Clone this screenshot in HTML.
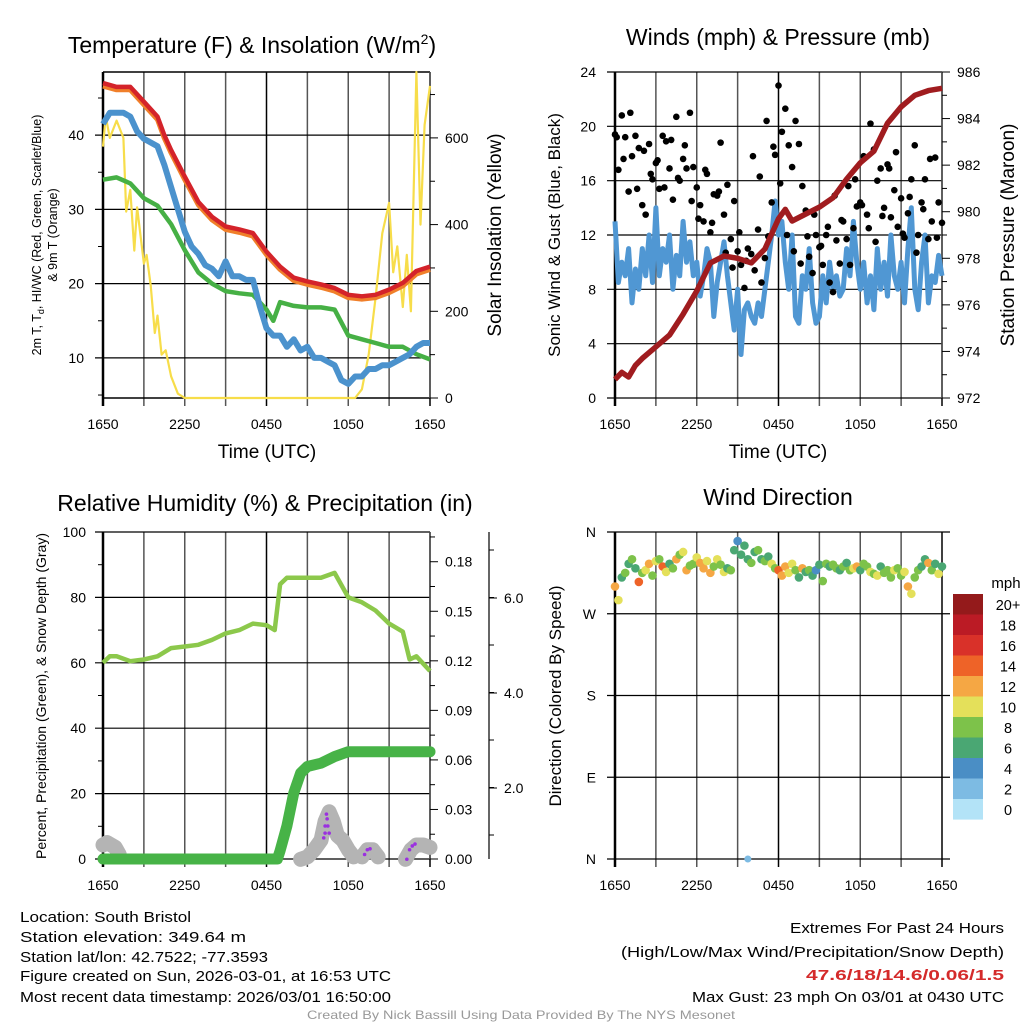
<!DOCTYPE html>
<html><head><meta charset="utf-8"><style>
html,body{margin:0;padding:0;background:#fff;}
svg{display:block;font-family:"Liberation Sans",sans-serif;}
</style></head><body>
<svg id="root" width="1024" height="1024" viewBox="0 0 1024 1024" xmlns="http://www.w3.org/2000/svg"></svg>
<script>
// ---------- DATA ----------
const timeTicks = ["1650","2250","0450","1050","1650"];
// Temperature panel (hours since 1650 UTC)
const redT = [0,1,2,3,4,4.5,5,6,7,8,9,10,11,12,13,14,15,16,17,18,19,20,21,22,23,24];
const redV = [47,46.5,46.5,44.5,42.5,40,38,34.4,31,29,27.7,27.3,26.8,24.3,22.3,20.8,20.3,19.9,19.4,18.5,18.3,18.5,19.2,20.1,21.7,22.3];
const greenT = [0,1,2,3,4,5,6,7,8,9,10,11,12,12.5,13,14,15,16,17,18,19,20,21,22,23,24];
const greenV = [34,34.3,33.5,31.5,30.5,28,24.5,21.5,20,19,18.7,18.5,16.5,15,17.5,17,16.8,16.8,16.5,13,12.5,12,11.5,11.5,10.5,9.8];
const blueT = [0,0.5,1,1.5,2,2.5,3,3.5,4,4.5,5,5.5,6,6.5,7,7.5,8,8.5,9,9.5,10,10.5,11,11.5,12,12.5,13,13.5,14,14.5,15,15.5,16,16.5,17,17.5,18,18.5,19,19.5,20,20.5,21,21.5,22,22.5,23,23.5,24];
const blueV = [41.5,43,43,43,42.5,40.5,39.5,39,38.5,36,33,30,27,25,24,22.5,22,21,23,21,21,20.5,20.5,17,14,13,13,11.5,12.5,11,11.5,10,10,9.5,9,7,6.5,7.5,7.5,8.5,8.5,9,9,9.5,10,10.5,11.5,12,12];
const solT = [0,0.2,0.5,1,1.5,1.7,2,2.3,2.5,3,3.2,3.5,3.8,4,4.3,4.6,5,5.5,6,18.5,19,19.5,20,20.5,21,21.3,21.6,22,22.3,22.6,23,23.3,23.6,24];
const solV = [580,650,600,640,600,430,480,340,440,310,330,260,150,190,100,110,50,10,0,0,20,100,230,380,450,290,350,210,330,200,752,400,630,720];
// Winds panel (wind speed every 0.25 h)
const windV = [13,8.5,10,9,11,7,9.5,8,11,9,12,8.5,14,9,11,10,12,8,10.5,9,13,10,11.5,9,
10,7.5,9,11,10,6,8.5,10,11.5,9,7,5,8,3.2,6.5,7,6,5.5,7,6,8,10,12,14.5,
12,13,10,8,12,6,5.5,9,8,11,7,5.5,6,9,7,10,8,9,7.5,8,11,9,13,10,
8,10,7,9,6.5,11,8,10,7.5,12,9,8,10,7,11,14,8,6.5,10,12,7,9,8.5,10.5,9];
const presT = [0,0.5,1,1.5,2,3,4,5,6,7,8,9,10,11,12,12.5,13,14,15,16,17,18,19,20,21,22,23,24];
const presV = [972.8,973.1,972.9,973.4,973.7,974.2,974.7,975.6,976.6,977.8,978.1,978.0,977.8,978.4,979.7,980.1,979.6,979.9,980.2,980.6,981.4,982.1,982.6,983.8,984.5,985.0,985.2,985.3];
const gustV = [19.4,16.8,20.8,19.2,15.2,17.8,19.3,18.4,14.2,13.5,18.7,16.1,17.3,15.4,19.3,18.9,16.9,14.6,20.7,16.0,17.6,16.9,21.0,17.0,
15.5,14.2,13.0,16.5,12.2,15.0,14.9,18.8,13.5,15.7,11.7,14.5,10.8,9.8,8.1,11.0,10.6,9.4,12.4,8.5,10.3,11.9,14.4,17.9,
23.0,19.6,21.3,18.6,17.0,20.4,18.7,15.6,13.8,10.4,9.2,12.0,11.1,9.8,12.0,8.5,7.8,11.6,9.9,13.0,11.7,9.8,12.5,14.1,
14.4,17.8,13.5,20.2,18.3,16.0,16.9,14.0,17.2,13.3,15.3,12.6,14.7,11.8,13.6,16.1,18.6,12.0,14.4,16.1,11.7,13.0,17.7,14.4,12.9];
const gust2V = [19.2,17.6,21,15.4,18.2,16.5,17.5,15.5,19,16.2,18.6,14.5,
13.2,16.8,12.9,15.2,10.7,9.6,12.2,10.1,17.8,16.3,20.4,18.5,
15.8,12.0,10.8,9.9,11.9,13.5,11.2,12.6,14.9,13.1,15.6,16.1,
14.2,12.5,11.5,13.4,16.9,18.1,12.1,14.8,10.7,13.9,17.6,11.8];
// RH / precip / snow panel
const rhT = [0,0.5,1,2,3,4,5,6,7,8,9,10,11,12,12.6,13,13.5,14,15,16,17,18,19,20,21,22,22.5,23,24];
const rhV = [60,62,62,60.5,61,62,64.5,65,65.5,67,69,70,72,71.5,70,84,86,86,86,86,87.5,80,78.5,76,72,69.5,61,62,57.5];
const prT = [0,12.8,13,13.5,14,14.5,15,16,17,18,24];
const prV = [0,0,0.005,0.02,0.04,0.052,0.056,0.058,0.062,0.065,0.065];
const snT = [0,0.3,0.6,0.9,1.2,14.5,15,15.5,16,16.3,16.6,16.9,17.2,17.6,18,18.4,19,19.4,19.8,20.2,22.2,22.6,23,23.5,24];
const snV = [0.8,0.85,0.8,0.75,0.6,0.5,0.55,0.7,0.9,1.3,1.5,1.3,1.0,0.9,0.7,0.55,0.55,0.7,0.7,0.55,0.5,0.7,0.8,0.8,0.75];
const puT = [16.4,16.45,16.3,16.5,16.3,16.6,16.2,19.2,19.4,19.6,22.3,22.5,22.7,22.9];
const puV = [1.45,1.35,1.2,1.2,1.05,1.05,0.95,0.6,0.7,0.72,0.5,0.7,0.78,0.82];
// Wind direction panel (0.25 h spacing)
const dirV = [300,285,310,315,325,330,320,305,315,318,325,312,328,330,322,316,325,320,330,335,338,318,323,325,
332,326,320,328,315,322,330,324,316,320,318,340,350,335,345,330,326,338,340,330,328,333,325,320,
318,312,322,315,325,318,310,320,316,318,312,318,324,306,325,322,324,320,318,322,326,318,320,322,
318,325,322,316,314,312,322,315,318,310,318,320,312,316,300,292,310,318,322,330,326,318,325,314,322];
const spdV = [12,10,7,8,7,9,6,14,8,10,12,9,11,8,14,10,7,9,12,8,10,12,8,9,
10,12,13,10,12,9,11,8,10,7,9,6,4,7,6,6,8,7,9,6,8,7,10,8,
14,13,12,10,11,8,7,12,7,9,6,5,7,8,8,7,9,8,7,8,6,9,10,12,
7,8,9,10,8,10,7,8,9,8,10,8,9,10,12,10,8,9,6,6,12,8,7,10,7];
const extraDirT = [9.75]; const extraDirV = [0]; const extraSpd = [3];
const cbLabels = ["20+","18","16","14","12","10","8","6","4","2","0"];
const cbColors = ["#941a1b","#bb1b25","#d93129","#ee6328","#f5a744","#e4e05a","#7dc24a","#4aa773","#4a8ec5","#7dbbe3","#b3e3f7"];

// ---------- HELPERS ----------
const NS="http://www.w3.org/2000/svg";
const root=document.getElementById('root');
function mk(tag,attrs,parent){const e=document.createElementNS(NS,tag);for(const k in attrs)e.setAttribute(k,attrs[k]);(parent||root).appendChild(e);return e;}
function txt(s,x,y,size,anchor,parent,extra){const e=mk('text',Object.assign({x:x,y:y,'font-size':size,'text-anchor':anchor||'middle',fill:'#000'},extra||{}),parent);e.textContent=s;return e;}
function lin(d0,d1,r0,r1){return v=>r0+(v-d0)/(d1-d0)*(r1-r0);}
function pathD(ts,vs,xs,ys){return ts.map((t,i)=>(i?'L':'M')+xs(t).toFixed(1)+','+ys(vs[i]).toFixed(1)).join(' ');}
function colorFor(s){let i=Math.floor(s/2);if(i>10)i=10;return cbColors[10-i];}

function frame(g,x0,y0,x1,y1){
  for(let k=0;k<=8;k++){const x=x0+k*(x1-x0)/8;const l=mk('line',{x1:x,y1:y0,x2:x,y2:y1+8,stroke:k%4==0?'#000':'#555','stroke-width':k==0?2.5:1.5},g);
    
    }
  for(let k=0;k<5;k++){const t=txt(timeTicks[k],x0+k*(x1-x0)/4,y1+31,14,'middle',g);
    
    }
}
function hgrid(g,x0,x1,y,label,side,lx){
  const l=mk('line',{x1:x0-8,y1:y,x2:x1,y2:y,stroke:'#000','stroke-width':1.2},g);
  
  
  if(label!==null){const t=txt(label,lx,y+5,14,'end',g);
    
    }
}
function rtick(g,x,y,label,len){
  mk('line',{x1:x,y1:y,x2:x+(len||8),y2:y,stroke:'#000','stroke-width':1},g);
  if(label!==null){const t=txt(label,x+15,y+5,14,'start',g);
    
    }
}
function vtext(s,x,y,size,parent){const t=txt(s,0,0,size,'middle',parent,{transform:`translate(${x},${y}) rotate(-90)`});return t;}

// ---------- PANEL 1: Temperature ----------
(function(){
  const g=mk('g',{});
  
  
  const X0=103,X1=430,Y0=72,Y1=398;
  const xs=lin(0,24,X0,X1), ys=lin(4.6,48.5,Y1,Y0), ysR=lin(0,752,Y1,Y0);
  const title=txt('Temperature (F) & Insolation (W/m',252,53,23,'middle',g);
  const sup=mk('tspan',{dy:-9,'font-size':14},title);sup.textContent='2';
  const cl=mk('tspan',{dy:9},title);cl.textContent=')';
  
  
  frame(g,X0,Y0,X1,Y1);
  [10,20,30,40].forEach(v=>hgrid(g,X0,X1,ys(v),String(v),'l',84));
  mk('line',{x1:X0,y1:Y0,x2:X1,y2:Y0,stroke:'#000','stroke-width':1.5},g);
  mk('line',{x1:X0,y1:Y1,x2:X1,y2:Y1,stroke:'#000','stroke-width':1.5},g);
  mk('line',{x1:X1,y1:Y0,x2:X1,y2:Y1,stroke:'#555','stroke-width':1.5},g);
  [0,200,400,600].forEach(v=>rtick(g,X1,ysR(v),String(v)));
  [100,300,500,700].forEach(v=>rtick(g,X1,ysR(v),null,5));
  [5,15,25,35,45].forEach(v=>mk('line',{x1:X0-5,y1:ys(v),x2:X0,y2:ys(v),stroke:'#000'},g));
  const sol=mk('path',{d:pathD(solT,solV,xs,ysR),fill:'none',stroke:'#f7dd4a','stroke-width':2.2,'stroke-linejoin':'round'},g);
  
  
  const gr=mk('path',{d:pathD(greenT,greenV,xs,ys),fill:'none',stroke:'#46b045','stroke-width':4.5,'stroke-linejoin':'round'},g);
  
  
  const bl=mk('path',{d:pathD(blueT,blueV,xs,ys),fill:'none',stroke:'#4b92cd','stroke-width':6,'stroke-linejoin':'round'},g);
  
  
  const or=mk('path',{d:pathD(redT,redV.map(v=>v-0.4),xs,ys),fill:'none',stroke:'#f07f2a','stroke-width':5,'stroke-linejoin':'round'},g);
  
  
  const rd=mk('path',{d:pathD(redT,redV,xs,ys),fill:'none',stroke:'#d4232a','stroke-width':4.5,'stroke-linejoin':'round'},g);
  
  
  const xl=txt('Time (UTC)',267,458,19,'middle',g);
  
  
  const yl1=vtext('2m T, T',41,235,12.5,g);
  const sub=mk('tspan',{dy:3,'font-size':9},yl1);sub.textContent='d';
  const rest=mk('tspan',{dy:-3},yl1);rest.textContent=', HI/WC (Red, Green, Scarlet/Blue)';
  
  
  const yl2=vtext('& 9m T (Orange)',57,235,12.5,g);
  
  
  const yr=vtext('Solar Insolation (Yellow)',501,235,19,g);
  
  
})();

// ---------- PANEL 2: Winds ----------
(function(){
  const g=mk('g',{});
  
  
  const X0=615,X1=942,Y0=72,Y1=398;
  const xs=lin(0,24,X0,X1), ys=lin(0,24,Y1,Y0), ysR=lin(972,986,Y1,Y0);
  const title=txt('Winds (mph) & Pressure (mb)',778,45,23,'middle',g);
  
  
  frame(g,X0,Y0,X1,Y1);
  [0,4,8,12,16,20,24].forEach(v=>hgrid(g,X0,X1,ys(v),String(v),'l',596));
  mk('line',{x1:X1,y1:Y0,x2:X1,y2:Y1,stroke:'#555','stroke-width':1.5},g);
  [972,974,976,978,980,982,984,986].forEach(v=>rtick(g,X1,ysR(v),String(v)));
  [973,975,977,979,981,983,985].forEach(v=>rtick(g,X1,ysR(v),null,5));
  const wT=windV.map((v,i)=>i*0.25);
  const wl=mk('path',{d:pathD(wT,windV,xs,ys),fill:'none',stroke:'#5097d3','stroke-width':5,'stroke-linejoin':'round'},g);
  
  
  gustV.forEach((v,i)=>{const c=mk('circle',{cx:xs(i*0.25),cy:ys(v),r:3.3,fill:'#000'},g);
    
    });
  gust2V.forEach((v,i)=>{const c=mk('circle',{cx:xs(i*0.5+0.125),cy:ys(v),r:3.3,fill:'#000'},g);
    
    });
  const pl=mk('path',{d:pathD(presT,presV,xs,ysR),fill:'none',stroke:'#a01c1f','stroke-width':5.5,'stroke-linejoin':'round'},g);
  
  
  const xl=txt('Time (UTC)',778,458,19,'middle',g);
  
  
  const yl=vtext('Sonic Wind & Gust (Blue, Black)',560,235,17,g);
  
  
  const yr=vtext('Station Pressure (Maroon)',1014,235,19,g);
  
  
})();

// ---------- PANEL 3: RH / Precip ----------
(function(){
  const g=mk('g',{});
  
  
  const X0=103,X1=430,Y0=532,Y1=859;
  const xs=lin(0,24,X0,X1), ys=lin(0,100,Y1,Y0), ysP=lin(0,0.198,Y1,Y0), ysS=lin(0,2,883,788);
  const title=txt('Relative Humidity (%) & Precipitation (in)',265,511,23,'middle',g);
  
  
  frame(g,X0,Y0,X1,Y1);
  [0,20,40,60,80,100].forEach(v=>hgrid(g,X0,X1,ys(v),String(v),'l',86));
  [10,30,50,70,90].forEach(v=>mk('line',{x1:X0-5,y1:ys(v),x2:X0,y2:ys(v),stroke:'#000'},g));
  mk('line',{x1:X1,y1:Y0,x2:X1,y2:Y1,stroke:'#555','stroke-width':1.5},g);
  [0,0.03,0.06,0.09,0.12,0.15,0.18].forEach(v=>rtick(g,X1,ysP(v),v.toFixed(2)));
  [0.015,0.045,0.075,0.105,0.135,0.165,0.195].forEach(v=>rtick(g,X1,ysP(v),null,5));
  const ax3=mk('line',{x1:489,y1:Y0,x2:489,y2:Y1,stroke:'#333','stroke-width':1.5},g);
  
  
  [2,4,6].forEach(v=>{mk('line',{x1:489,y1:ysS(v),x2:497,y2:ysS(v),stroke:'#000'},g);
    const t=txt(v.toFixed(1),504,ysS(v)+5,14,'start',g);
    
    });
  for(let y=Y1-24;y>Y0;y-=47.5){mk('line',{x1:489,y1:y,x2:494,y2:y,stroke:'#000'},g);}
  const sn=mk('path',{d:pathD(snT.slice(0,5),snV.slice(0,5),xs,ysS)+' '+pathD(snT.slice(5,16),snV.slice(5,16),xs,ysS)+' '+pathD(snT.slice(16,20),snV.slice(16,20),xs,ysS)+' '+pathD(snT.slice(20),snV.slice(20),xs,ysS),fill:'none',stroke:'#b4b4b4','stroke-width':15,'stroke-linecap':'round','stroke-linejoin':'round'},g);
  
  
  const pr=mk('path',{d:pathD(prT,prV,xs,ysP),fill:'none',stroke:'#47b347','stroke-width':11,'stroke-linecap':'round','stroke-linejoin':'round'},g);
  
  
  puT.forEach((t,i)=>{const c=mk('circle',{cx:xs(t),cy:ysS(puV[i]),r:1.8,fill:'#9b30e0'},g);
    
    });
  const rh=mk('path',{d:pathD(rhT,rhV,xs,ys),fill:'none',stroke:'#8cc84b','stroke-width':4.5,'stroke-linejoin':'round'},g);
  
  
  const yl=vtext('Percent, Precipitation (Green), & Snow Depth (Gray)',46,696,14,g);
  
  
})();

// ---------- PANEL 4: Wind Direction ----------
(function(){
  const g=mk('g',{});
  
  
  const X0=615,X1=942,Y0=532,Y1=859;
  const xs=lin(0,24,X0,X1), ys=lin(0,360,Y1,Y0);
  const title=txt('Wind Direction',778,505,23,'middle',g);
  
  
  frame(g,X0,Y0,X1,Y1);
  [[0,'N'],[90,'E'],[180,'S'],[270,'W'],[360,'N']].forEach(p=>hgrid(g,X0,X1+8,ys(p[0]),p[1],'l',596));
  dirV.forEach((d,i)=>{const c=mk('circle',{cx:xs(i*0.25),cy:ys(d),r:4.3,fill:colorFor(spdV[i])},g);
    
    });
  extraDirT.forEach((t,i)=>{const c=mk('circle',{cx:xs(t),cy:ys(extraDirV[i]),r:3.5,fill:colorFor(extraSpd[i])},g);
    
    });
  const yl=vtext('Direction (Colored By Speed)',561,696,17,g);
  
  
  const cb=mk('g',{},g);
  
  
  const u=txt('mph',1006,588,15,'middle',cb);
  
  
  cbColors.forEach((c,i)=>{const r=mk('rect',{x:953,y:594+i*20.5,width:30,height:20.6,fill:c},cb);
    
    
    const t=txt(cbLabels[i],1008,594+i*20.5+16,14.5,'middle',cb);
    
    });
})();

// ---------- FOOTER ----------
(function(){
  const g=mk('g',{});
  
  
  const left=[['Location: South Bristol',171,922],['Station elevation: 349.64 m',226,942],['Station lat/lon: 42.7522; -77.3593',248,962],['Figure created on Sun, 2026-03-01, at 16:53 UTC',371,981],['Most recent data timestamp: 2026/03/01 16:50:00',371,1002]];
  left.forEach(a=>{const t=txt(a[0],20,a[2],15,'start',g,{textLength:a[1],lengthAdjust:'spacingAndGlyphs'});
    
    });
  const right=[['Extremes For Past 24 Hours',214,933,'#000','normal'],['(High/Low/Max Wind/Precipitation/Snow Depth)',383,957,'#000','normal'],['47.6/18/14.6/0.06/1.5',198,980,'#d42a2a','bold'],['Max Gust: 23 mph On 03/01 at 0430 UTC',312,1002,'#000','normal']];
  right.forEach(a=>{const t=txt(a[0],1004,a[2],15,'end',g,{textLength:a[1],lengthAdjust:'spacingAndGlyphs',fill:a[3],'font-weight':a[4]});
    
    });
  const c=txt('Created By Nick Bassill Using Data Provided By The NYS Mesonet',521,1019,12,'middle',g,{textLength:428,lengthAdjust:'spacingAndGlyphs',fill:'#999'});
  
  
})();
</script>
</body></html>
